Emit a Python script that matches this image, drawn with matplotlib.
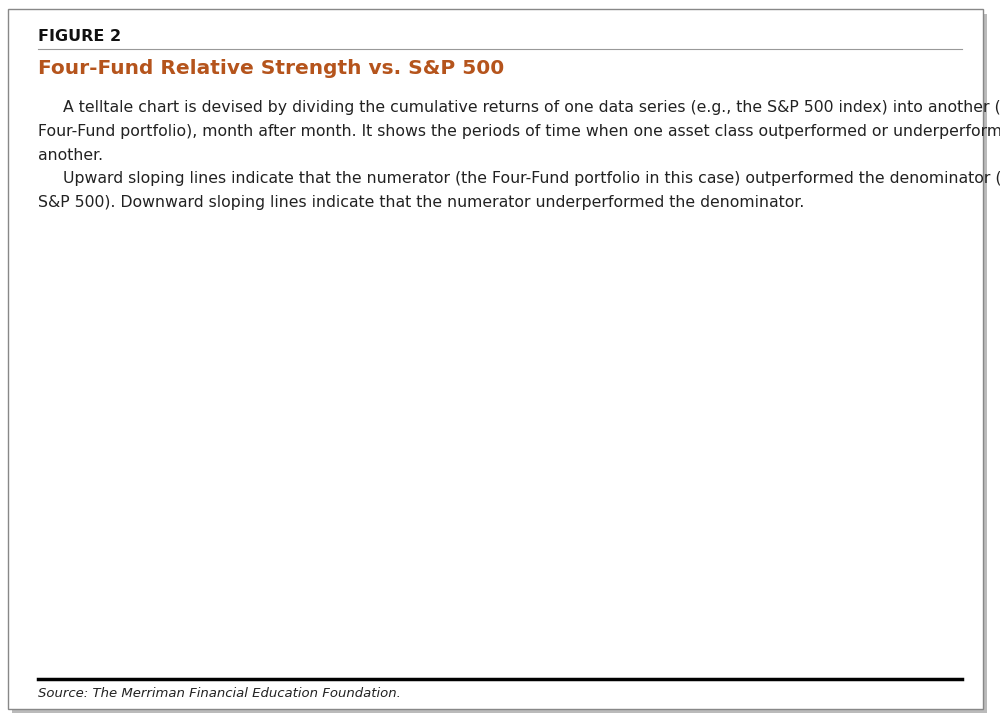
import matplotlib.pyplot as plt
from matplotlib.patches import FancyBboxPatch
from matplotlib.ticker import FixedLocator, NullFormatter

# relative strength series (10 points per row)
years = [1930, 1930.5, 1931, 1931.5, 1932, 1932.3, 1932.6, 1933, 1933.3, 1933.6,
         1934, 1934.3, 1934.6, 1935, 1935.5, 1936, 1936.5, 1937, 1937.4, 1937.8,
         1938.2, 1938.6, 1939, 1939.4, 1939.8, 1940.3, 1941, 1942, 1943, 1944,
         1945, 1946.3, 1947, 1948, 1949, 1950, 1951, 1952, 1953, 1954,
         1955, 1956, 1957, 1958, 1959, 1960, 1961, 1962, 1963, 1964,
         1965, 1966, 1967, 1968, 1968.9, 1969.5, 1970.3, 1971, 1972, 1973,
         1974, 1974.5, 1975, 1976, 1977, 1978, 1979, 1980, 1981, 1982,
         1983, 1983.9, 1985, 1986, 1987, 1988, 1989, 1989.6, 1990.5, 1991.5,
         1992.5, 1993.5, 1994.5, 1995.5, 1996.5, 1997.5, 1998.2, 1999, 1999.6, 2000.3,
         2001, 2002, 2003, 2004, 2005, 2006.2, 2007, 2008, 2008.8, 2009.5,
         2010.5, 2011.5, 2012.5, 2013.5, 2014.3, 2015, 2016, 2017, 2018, 2019,
         2019.5, 2020]
values = [1.0, 0.96, 0.9, 0.86, 0.78, 0.74, 0.76, 0.72, 0.8, 1.02,
          0.95, 1.03, 0.92, 0.97, 0.9, 0.95, 0.99, 0.97, 1.13, 1.03,
          0.95, 0.97, 0.92, 0.95, 0.9, 0.94, 1.0, 1.07, 1.2, 1.32,
          1.45, 1.64, 1.52, 1.56, 1.45, 1.6, 1.5, 1.5, 1.45, 1.4,
          1.42, 1.36, 1.34, 1.32, 1.36, 1.43, 1.42, 1.46, 1.45, 1.42,
          1.45, 1.55, 1.8, 2.05, 2.38, 2.05, 2.0, 1.95, 1.92, 1.8,
          1.68, 1.72, 1.8, 1.95, 2.25, 2.6, 3.0, 3.1, 3.1, 3.45,
          3.7, 4.1, 4.0, 3.85, 3.85, 3.75, 3.4, 3.1, 3.35, 3.4,
          3.55, 3.75, 4.05, 3.95, 4.0, 3.9, 3.75, 3.1, 3.2, 3.35,
          4.3, 5.0, 5.8, 6.2, 6.5, 6.75, 6.4, 6.1, 5.85, 6.3,
          6.6, 6.6, 6.5, 6.7, 6.75, 6.4, 6.6, 6.5, 6.4, 6.0,
          5.65, 5.7]

# out-performance segments: start year, start level, end year, end level
up_x0 = [1941, 1966, 1976.8, 2000.8]
up_y0 = [1.0, 1.64, 2.38, 4.1]
up_x1 = [1946.3, 1968.8, 1983.8, 2006.2]
up_y1 = [1.64, 2.38, 4.1, 6.75]
# flat (under-performance) arrows
flat_x0 = [1930, 1946.3, 1968.8, 1983.8, 2006.2]
flat_x1 = [1941, 1966, 1976.8, 2000.8, 2020]
flat_y = [1.0, 1.64, 2.38, 4.1, 6.75]
dur_labels = ['11½ years', '20 years', '8 years', '17 years', '14 years']
dur_x = [1937, 1962, 1975.5, 1995, 2014.5]
dur_ty = [0.79, 1.35, 1.55, 3.0, 5.5]
gain_labels = ['+64% / 5 yrs\n(+10.3%/yr)', '+43% / 3 yrs\n(+12.6%/yr)',
               '+69% / 7 yrs\n(+7.8%/yr)', '+58% / 5 yrs\n(+9.6%/yr)']
gain_x = [1939.5, 1963.5, 1977, 1999]
gain_y = [1.45, 2.15, 3.65, 6.2]

GREEN = '#4ba541'
fig = plt.figure(figsize=(10, 7.25), dpi=100)

# frame with shadow
fig.patches.append(FancyBboxPatch((0.012, 0.016), 0.975, 0.965, boxstyle='square,pad=0',
                                  transform=fig.transFigure, fc='#bbbbbb', ec='none', zorder=0))
fig.patches.append(FancyBboxPatch((0.008, 0.022), 0.975, 0.965, boxstyle='square,pad=0',
                                  transform=fig.transFigure, fc='white', ec='#888888', lw=1, zorder=0))

fig.text(0.038, 0.944, 'FIGURE 2', fontsize=11.5, fontweight='bold', color='#111111')
fig.add_artist(plt.Line2D([0.038, 0.962], [0.932, 0.932], color='#999999', lw=0.8))
fig.text(0.038, 0.898, 'Four-Fund Relative Strength vs. S&P 500', fontsize=14.5,
         fontweight='bold', color='#b5541c')
para = ['     A telltale chart is devised by dividing the cumulative returns of one data series (e.g., the S&P 500 index) into another (e.g., the',
        'Four-Fund portfolio), month after month. It shows the periods of time when one asset class outperformed or underperformed',
        'another.',
        '     Upward sloping lines indicate that the numerator (the Four-Fund portfolio in this case) outperformed the denominator (the',
        'S&P 500). Downward sloping lines indicate that the numerator underperformed the denominator.']
for i, line in enumerate(para):
    fig.text(0.038, 0.845 - i * 0.0325, line, fontsize=11.3, color='#222222',
             family='Liberation Sans Narrow')

ax = fig.add_axes([0.087, 0.156, 0.852, 0.506])
ax.plot(years, values, color='#4472c4', lw=1.5, zorder=3)
ax.set_yscale('log')
ax.set_ylim(0.6, 10)
ax.set_xlim(1930, 2020)
ax.yaxis.set_major_locator(FixedLocator([1, 10]))
ax.yaxis.set_major_formatter(plt.FuncFormatter(lambda v, p: f'{v:g}'))
ax.yaxis.set_minor_locator(FixedLocator([0.6, 0.7, 0.8, 0.9] + list(range(2, 10))))
ax.yaxis.set_minor_formatter(NullFormatter())
xt = list(range(1930, 2021, 10))
ax.set_xticks(xt)
ax.set_xticklabels([f'Jan-{y % 100:02d}' for y in xt])
ax.set_xticks(list(range(1930, 2021, 2)), minor=True)
ax.grid(which='major', color='#d4d4d4', lw=1)
ax.grid(which='minor', color='#ececec', lw=0.8)
for s in ['top', 'right']:
    ax.spines[s].set_visible(False)
ax.spines['left'].set_color('#d4d4d4')
ax.spines['bottom'].set_color('#d4d4d4')
ax.tick_params(which='both', length=0, labelsize=9.5, colors='#333333', pad=12)
ax.tick_params(axis='y', pad=6)
ax.set_ylabel('Relative Strength (Growth) - log scale', fontsize=9, color='#333333')

for x0, x1, y in zip(flat_x0, flat_x1, flat_y):
    ax.annotate('', xy=(x1, y), xytext=(x0, y),
                arrowprops=dict(arrowstyle='-|>,head_length=0.6,head_width=0.3', color='black',
                                lw=2.2, shrinkA=0, shrinkB=0), zorder=5)
for x0, y0, x1, y1 in zip(up_x0, up_y0, up_x1, up_y1):
    ax.annotate('', xy=(x1, y1), xytext=(x0, y0),
                arrowprops=dict(arrowstyle='simple,head_length=0.9,head_width=0.9,tail_width=0.45',
                                color=GREEN, lw=0, shrinkA=0, shrinkB=0), zorder=6)
for lab, x, ty, y in zip(dur_labels, dur_x, dur_ty, flat_y):
    ax.annotate(lab, xy=(x, y), xytext=(x, ty), ha='center', va='top', fontsize=10, color='#333333',
                arrowprops=dict(arrowstyle='-|>,head_length=0.4,head_width=0.15', color='#555555', lw=0.8,
                                shrinkA=0, shrinkB=0), zorder=4)
for lab, x, y in zip(gain_labels, gain_x, gain_y):
    ax.text(x, y, lab, ha='right', va='center', fontsize=11, fontweight='bold', color=GREEN,
            linespacing=1.5, zorder=7)

ax.text(1978.5, 1.58, 'Duration of Relative Under-Performance', fontsize=10, color='#333333',
        va='center', backgroundcolor='white', zorder=4)
ax.annotate('', xy=(1977.3, 1.58), xytext=(1979.5, 1.58),
            arrowprops=dict(arrowstyle='-|>,head_length=0.4,head_width=0.15', color='#333333', lw=0.8), zorder=5)
ax.text(1966.5, 3.55, 'Duration and Magnitude of\nRelative Out-Performance', ha='right', va='center',
        fontsize=10.5, fontweight='bold', color=GREEN, linespacing=1.5, backgroundcolor='white', zorder=4)
ax.annotate('', xy=(1971.2, 3.72), xytext=(1967.3, 3.72),
            arrowprops=dict(arrowstyle='-|>,head_length=0.6,head_width=0.3', color=GREEN, lw=2.5), zorder=5)

fig.add_artist(plt.Line2D([0.038, 0.962], [0.063, 0.063], color='black', lw=2.5))
fig.text(0.038, 0.038, 'Source: The Merriman Financial Education Foundation.', fontsize=9.5,
         style='italic', color='#222222')

fig.savefig('out.png', dpi=100)
